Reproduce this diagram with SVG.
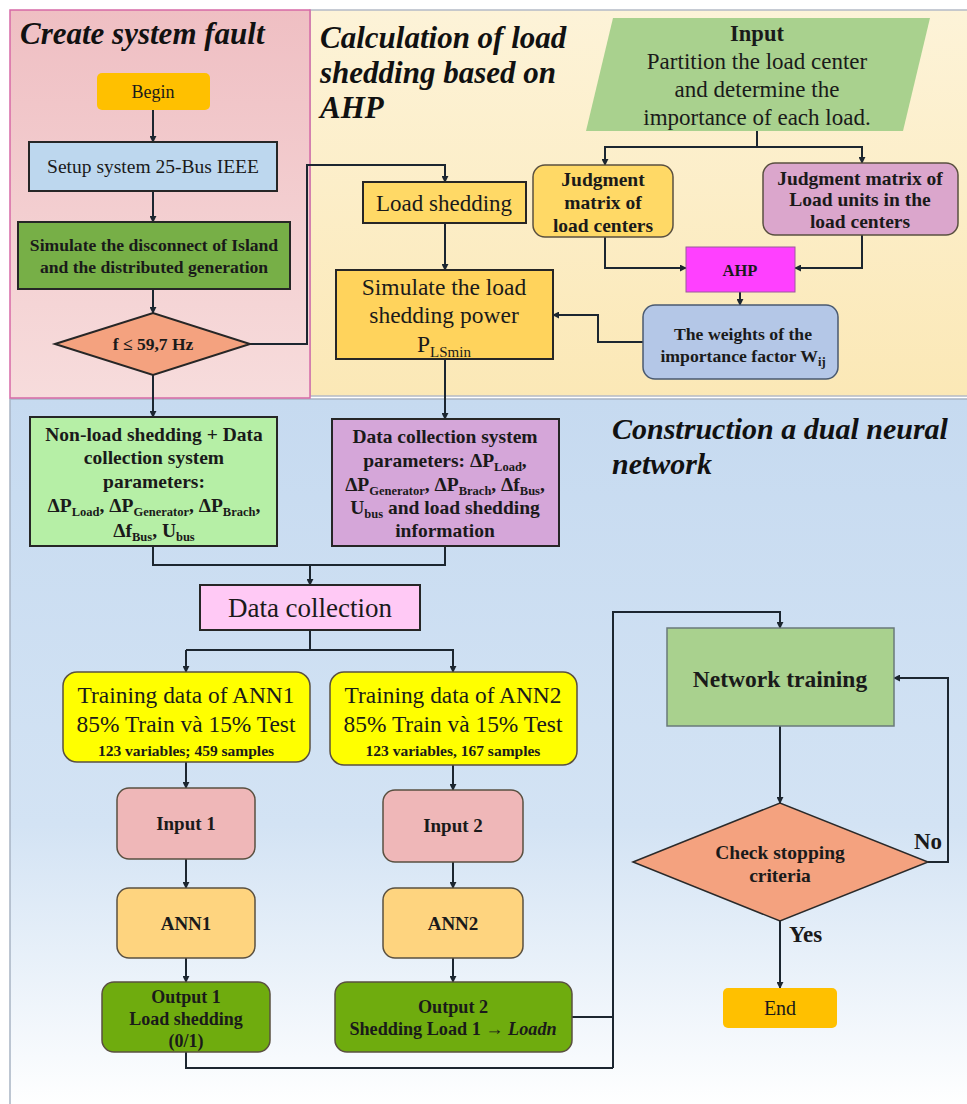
<svg xmlns="http://www.w3.org/2000/svg" width="967" height="1104" viewBox="0 0 967 1104">
<defs>
<linearGradient id="gPink" x1="0" y1="0" x2="0" y2="1"><stop offset="0" stop-color="#efbfc3"/><stop offset="1" stop-color="#f7dcdc"/></linearGradient>
<linearGradient id="gYel" x1="0" y1="0" x2="0" y2="1"><stop offset="0" stop-color="#fdf3d8"/><stop offset="1" stop-color="#fbe8b6"/></linearGradient>
<linearGradient id="gBlue" x1="0" y1="0" x2="0" y2="1"><stop offset="0" stop-color="#c6daf0"/><stop offset="0.6" stop-color="#d3e3f4"/><stop offset="1" stop-color="#ffffff"/></linearGradient>
<marker id="ah" viewBox="0 0 8 8" refX="7" refY="4" markerWidth="7" markerHeight="7" markerUnits="userSpaceOnUse" orient="auto"><path d="M0,0 L8,4 L0,8 z" fill="#1c2630"/></marker>
<style>
.t{font-family:"Liberation Serif","Times New Roman",serif;fill:#1a1a1a}
.b{font-weight:bold}
.c{text-anchor:middle}
.title{font-family:"Liberation Serif","Times New Roman",serif;font-size:31px;font-weight:bold;font-style:italic;fill:#111}
.con{fill:none;stroke:#1c2630;stroke-width:2}
.arr{marker-end:url(#ah)}
.sq{stroke:#262626;stroke-width:2}
.rd{stroke:#5a5040;stroke-width:1.5}
.sub{font-size:12.5px}
</style>
</defs>
<rect x="0" y="0" width="967" height="1104" fill="#ffffff"/>
<g id="panel-blue"><rect x="10" y="399" width="960" height="710" fill="url(#gBlue)" stroke="#a8b4c4" stroke-width="1.5"/>
<text class="title" x="612" y="439" font-size="30" style="font-size:30px">Construction a dual neural</text>
<text class="title" x="612" y="474" style="font-size:30px">network</text></g>
<g id="panel-yellow"><rect x="310" y="10" width="660" height="386" fill="url(#gYel)" stroke="#b4bac6" stroke-width="1.5"/>
<text class="title" x="320" y="48">Calculation of load</text>
<text class="title" x="320" y="83">shedding based on</text>
<text class="title" x="320" y="118">AHP</text></g>
<g id="panel-pink"><rect x="10" y="10" width="300" height="388" fill="url(#gPink)" stroke="#d66aa6" stroke-width="1.5"/>
<text class="title" x="20" y="44">Create system fault</text></g>

<g id="connectors">
<path class="con arr" d="M153,110 V142"/>
<path class="con arr" d="M153,191 V222"/>
<path class="con arr" d="M153,289 V313"/>
<path class="con arr" d="M250,344 H307 V165 H445 V182"/>
<path class="con arr" d="M445,223 V270"/>
<path class="con" d="M757,131 V147"/>
<path class="con arr" d="M757,147 H605 V165"/>
<path class="con arr" d="M757,147 H862 V163"/>
<path class="con arr" d="M605,237 V268 H686"/>
<path class="con arr" d="M862,235 V268 H795"/>
<path class="con arr" d="M740,292 V305"/>
<path class="con arr" d="M643,342 H598 V315 H553"/>
<path class="con arr" d="M153,375 V417"/>
<path class="con arr" d="M445,359 V419"/>
<path class="con" d="M153,546 V565 H445 V546"/>
<path class="con arr" d="M310,565 V585"/>
<path class="con" d="M310,630 V650"/>
<path class="con arr" d="M186,650 H453 V672"/>
<path class="con arr" d="M186,650 V672"/>
<path class="con arr" d="M186,762 V788"/>
<path class="con arr" d="M186,859 V888"/>
<path class="con arr" d="M186,958 V982"/>
<path class="con arr" d="M453,765 V790"/>
<path class="con arr" d="M453,862 V888"/>
<path class="con arr" d="M453,958 V982"/>
<path class="con" d="M186,1052 V1068 H613"/>
<path class="con" d="M572,1017 H613"/>
<path class="con arr" d="M613,1068 V612 H780 V628"/>
<path class="con arr" d="M780,726 V803"/>
<path class="con arr" d="M928,862 H948 V678 H894"/>
<path class="con arr" d="M780,921 V988"/>
<text class="t b" x="914" y="849" font-size="23">No</text>
<text class="t b" x="789" y="942" font-size="23">Yes</text>
</g>

<g id="begin"><rect x="97" y="73" width="113" height="37" rx="5" fill="#ffc000"/>
<text class="t c" x="153" y="98" font-size="18">Begin</text></g>
<g id="setup"><rect class="sq" x="29" y="142" width="248" height="49" fill="#bdd7ee"/>
<text class="t c" x="153" y="173" font-size="19.5">Setup system 25-Bus IEEE</text></g>
<g id="simulate-island"><rect class="sq" x="18" y="222" width="272" height="67" fill="#77af47"/>
<text class="t b c" x="154" y="251" font-size="17.6">Simulate the disconnect of Island</text>
<text class="t b c" x="154" y="273" font-size="17.6">and the distributed generation</text></g>
<g id="freq-check"><polygon class="sq" points="55,344 153,313 250,344 153,375" fill="#f4a27f"/>
<text class="t b c" x="153" y="350" font-size="17.5">f ≤ 59,7 Hz</text></g>

<g id="load-shedding"><rect class="sq" x="363" y="182" width="163" height="41" fill="#ffd966"/>
<text class="t c" x="444" y="211" font-size="23">Load shedding</text></g>
<g id="simulate-power"><rect class="sq" x="336" y="270" width="217" height="89" fill="#ffd35c"/>
<text class="t c" x="444" y="295" font-size="23.5">Simulate the load</text>
<text class="t c" x="444" y="323" font-size="23.5">shedding power</text>
<text class="t c" x="444" y="352" font-size="23.5">P<tspan font-size="15" dy="5">LSmin</tspan></text></g>
<g id="input-ahp"><polygon points="613,18 930,18 903,131 586,131" fill="#a9d18e"/>
<text class="t b c" x="757" y="41" font-size="22.5">Input</text>
<text class="t c" x="757" y="69" font-size="23">Partition the load center</text>
<text class="t c" x="757" y="97" font-size="23">and determine the</text>
<text class="t c" x="757" y="125" font-size="23">importance of each load.</text></g>
<g id="judgment-centers"><rect class="rd" x="533" y="165" width="140" height="72" rx="12" fill="#ffd966"/>
<text class="t b c" x="603" y="186" font-size="19.5">Judgment</text>
<text class="t b c" x="603" y="209" font-size="19.5">matrix of</text>
<text class="t b c" x="603" y="232" font-size="19.5">load centers</text></g>
<g id="judgment-units"><rect class="rd" x="763" y="163" width="195" height="72" rx="12" fill="#dba6cc"/>
<text class="t b c" x="860" y="185" font-size="19.5">Judgment matrix of</text>
<text class="t b c" x="860" y="206" font-size="19.5">Load units in the</text>
<text class="t b c" x="860" y="228" font-size="19.5">load centers</text></g>
<g id="ahp"><rect x="686" y="247" width="109" height="45" fill="#ff40ff" stroke="#9a5a9a" stroke-width="1"/>
<text class="t b c" x="740" y="276" font-size="16.5">AHP</text></g>
<g id="weights"><rect x="643" y="305" width="195" height="74" rx="12" fill="#b4c7e7" stroke="#4a5a70" stroke-width="1.5"/>
<text class="t b c" x="743" y="340" font-size="17.7">The weights of the</text>
<text class="t b c" x="743" y="362" font-size="17.7">importance factor W<tspan class="sub" dy="4">ij</tspan></text></g>

<g id="non-load"><rect class="sq" x="30" y="417" width="247" height="129" fill="#b6efa6"/>
<text class="t b c" x="154" y="441" font-size="19.5">Non-load shedding + Data</text>
<text class="t b c" x="154" y="464" font-size="19.5">collection system</text>
<text class="t b c" x="154" y="488" font-size="19.5">parameters:</text>
<text class="t b c" x="154" y="512" font-size="19.5">ΔP<tspan class="sub" dy="4">Load</tspan><tspan dy="-4">, ΔP</tspan><tspan class="sub" dy="4">Generator</tspan><tspan dy="-4">, ΔP</tspan><tspan class="sub" dy="4">Brach</tspan><tspan dy="-4">,</tspan></text>
<text class="t b c" x="154" y="537" font-size="19.5">Δf<tspan class="sub" dy="4">Bus</tspan><tspan dy="-4">, U</tspan><tspan class="sub" dy="4">bus</tspan></text></g>
<g id="data-params"><rect class="sq" x="332" y="419" width="227" height="127" fill="#d5a6d9"/>
<text class="t b c" x="445" y="443" font-size="19.5">Data collection system</text>
<text class="t b c" x="445" y="467" font-size="19.5">parameters: ΔP<tspan class="sub" dy="4">Load</tspan><tspan dy="-4">,</tspan></text>
<text class="t b c" x="445" y="491" font-size="19.5">ΔP<tspan class="sub" dy="4">Generator</tspan><tspan dy="-4">, ΔP</tspan><tspan class="sub" dy="4">Brach</tspan><tspan dy="-4">, Δf</tspan><tspan class="sub" dy="4">Bus</tspan><tspan dy="-4">,</tspan></text>
<text class="t b c" x="445" y="514" font-size="19.5">U<tspan class="sub" dy="4">bus</tspan><tspan dy="-4"> and load shedding</tspan></text>
<text class="t b c" x="445" y="537" font-size="19.5">information</text></g>
<g id="data-collection"><rect class="sq" x="200" y="585" width="220" height="45" fill="#ffc9f5"/>
<text class="t c" x="310" y="617" font-size="27">Data collection</text></g>

<g id="training1"><rect class="rd" x="63" y="672" width="247" height="90" rx="14" fill="#ffff00"/>
<text class="t c" x="186" y="703" font-size="23.4">Training  data of ANN1</text>
<text class="t c" x="186" y="732" font-size="23.4">85% Train và 15% Test</text>
<text class="t b c" x="186" y="756" font-size="15.5">123 variables; 459 samples</text></g>
<g id="input1"><rect class="rd" x="117" y="788" width="138" height="71" rx="12" fill="#efb7b8"/>
<text class="t b c" x="186" y="830" font-size="19">Input 1</text></g>
<g id="ann1"><rect class="rd" x="117" y="888" width="138" height="70" rx="12" fill="#fed47f"/>
<text class="t b c" x="186" y="930" font-size="19">ANN1</text></g>
<g id="output1"><rect class="rd" x="102" y="982" width="168" height="70" rx="12" fill="#6fac0e"/>
<text class="t b c" x="186" y="1003" font-size="18">Output 1</text>
<text class="t b c" x="186" y="1025" font-size="18">Load shedding</text>
<text class="t b c" x="186" y="1047" font-size="18">(0/1)</text></g>

<g id="training2"><rect class="rd" x="330" y="672" width="247" height="93" rx="14" fill="#ffff00"/>
<text class="t c" x="453" y="703" font-size="23.4">Training  data of ANN2</text>
<text class="t c" x="453" y="732" font-size="23.4">85% Train và 15% Test</text>
<text class="t b c" x="453" y="756" font-size="15.5">123 variables, 167 samples</text></g>
<g id="input2"><rect class="rd" x="383" y="790" width="140" height="72" rx="12" fill="#efb7b8"/>
<text class="t b c" x="453" y="832" font-size="19">Input 2</text></g>
<g id="ann2"><rect class="rd" x="383" y="888" width="140" height="70" rx="12" fill="#fed47f"/>
<text class="t b c" x="453" y="930" font-size="19">ANN2</text></g>
<g id="output2"><rect class="rd" x="335" y="982" width="237" height="70" rx="12" fill="#6fac0e"/>
<text class="t b c" x="453" y="1013" font-size="18.2">Output 2</text>
<text class="t b c" x="453" y="1035" font-size="18.2">Shedding Load 1 → <tspan font-style="italic">Loadn</tspan></text></g>

<g id="network-training"><rect x="667" y="628" width="227" height="98" fill="#a9d18e" stroke="#6a7a7a" stroke-width="1.5"/>
<text class="t b c" x="780" y="687" font-size="23.5">Network training</text></g>
<g id="check-stop"><polygon points="633,862 780,803 928,862 780,921" fill="#f4a27f" stroke="#2a2a2a" stroke-width="1.5"/>
<text class="t b c" x="780" y="859" font-size="19.5" fill="#3a1a12">Check stopping</text>
<text class="t b c" x="780" y="882" font-size="19.5" fill="#3a1a12">criteria</text></g>
<g id="end"><rect x="723" y="988" width="114" height="40" rx="5" fill="#ffc000"/>
<text class="t c" x="780" y="1015" font-size="20">End</text></g>
</svg>
